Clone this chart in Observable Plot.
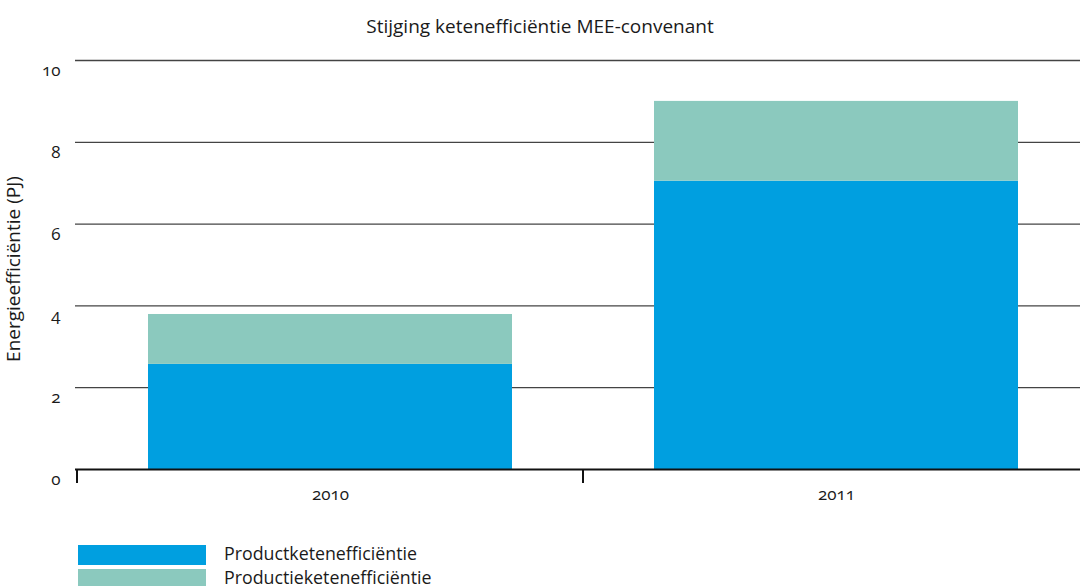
<!DOCTYPE html>
<html>
<head>
<meta charset="utf-8">
<script src="https://cdn.jsdelivr.net/npm/d3@7"></script>
<script src="https://cdn.jsdelivr.net/npm/@observablehq/plot@0.6"></script>
<style>
  body { margin: 0; background: #fff; font-family: "Open Sans", "Noto Sans", sans-serif; color: #1a1a1a; }
  #wrap { position: relative; width: 1080px; height: 586px; overflow: hidden; }
  #title { position: absolute; top: 13px; left: 0; width: 1080px; text-align: center; font-size: 19px; }
  #chart { position: absolute; top: 40px; left: 0; }
  #legend { position: absolute; top: 543px; left: 78px; font-size: 17.8px; }
  .item { display: flex; align-items: center; height: 24px; }
  .item span { position: relative; top: -2px; }
  .sw { width: 128px; height: 20px; margin-right: 18px; flex: none; }
  svg text { font-variant-numeric: oldstyle-nums; }
</style>
</head>
<body>
<div id="wrap">
  <div id="title"></div>
  <div id="chart"></div>
  <div id="legend"></div>
</div>
<script>
const chartTitle = "Stijging ketenefficiëntie MEE-convenant";
const yLabel = "Energieefficiëntie (PJ)";
const years = ["2010", "2011"];
const seriesNames = ["Productketenefficiëntie", "Productieketenefficiëntie"];
const productketen = [2.57, 7.05];
const productieketen = [1.22, 1.95];
const yTicks = [0, 2, 4, 6, 8, 10];
const gridTicks = [2, 4, 6, 8, 10];
const colors = ["#009fe0", "#8bc9be"];

const table = [];
years.forEach((y, i) => table.push({year: y, series: seriesNames[0], value: productketen[i]}));
years.forEach((y, i) => table.push({year: y, series: seriesNames[1], value: productieketen[i]}));

document.getElementById("title").textContent = chartTitle;

const pInner = 0.28, pOuter = 0.142;
const plot = Plot.plot({
  width: 1080,
  height: 500,
  marginLeft: 75,
  marginRight: 0,
  marginTop: 20,
  marginBottom: 71,
  style: {fontFamily: "'Open Sans', 'Noto Sans', sans-serif", fontSize: "17px", color: "#1a1a1a", background: "#fff"},
  x: {domain: years, range: [75, 1091], paddingInner: pInner, paddingOuter: pOuter, axis: null},
  y: {domain: [0, 10], axis: null},
  color: {domain: seriesNames, range: colors},
  marks: [
    Plot.ruleY(gridTicks, {stroke: "#444", strokeWidth: 1.3}),
    Plot.barY(table, {x: "year", y: "value", fill: "series", order: seriesNames}),
    Plot.ruleY([0], {stroke: "#111", strokeWidth: 2}),
    Plot.axisY(yTicks, {tickSize: 0, tickPadding: 15, dy: 10, fontSize: 17, label: null}),
    Plot.axisX({tickSize: 0, tickPadding: 18, fontSize: 17, label: null}),
    Plot.axisX({tickSize: 14, text: null, dx: -253.5, stroke: "#111", strokeWidth: 2, label: null}),
    Plot.text([yLabel], {frameAnchor: "left", textAnchor: "middle", rotate: -90, dx: -62, dy: 4, fontSize: 19, fill: "#1a1a1a"})
  ]
});
document.getElementById("chart").appendChild(plot);

const legend = document.getElementById("legend");
seriesNames.forEach((s, i) => {
  const row = document.createElement("div");
  row.className = "item";
  const sw = document.createElement("div");
  sw.className = "sw";
  sw.style.background = colors[i];
  const t = document.createElement("span");
  t.textContent = s;
  row.appendChild(sw);
  row.appendChild(t);
  legend.appendChild(row);
});
</script>
</body>
</html>
